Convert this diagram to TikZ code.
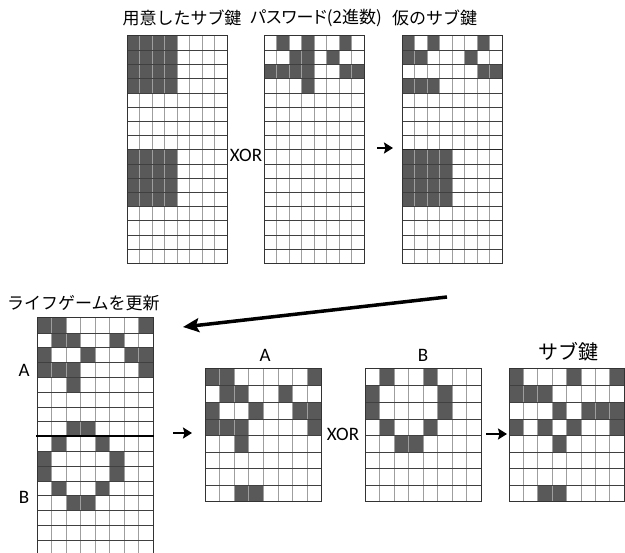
\documentclass[tikz,border=0pt]{standalone}
\usepackage{fontspec}
\newfontfamily\jpfont{Noto Sans CJK JP}
\newfontfamily\jppfont[RawFeature=+palt]{Noto Sans CJK JP}
\newfontfamily\latfont{Carlito}
\usetikzlibrary{arrows.meta}
\tikzset{
  cellfill/.style={fill=black!65},
  vline/.style={draw=black!38, line width=0.9pt},
  hline/.style={draw=black!75, line width=0.5pt},
  gborder/.style={draw=black!80, line width=1pt},
  jplabel/.style={font=\jpfont\fontsize{17}{19}\selectfont, inner sep=0pt},
  jpplabel/.style={font=\jppfont\fontsize{17}{19}\selectfont, inner sep=0pt},
  biglabel/.style={font=\jpfont\fontsize{20}{22}\selectfont, inner sep=0pt},
  latlabel/.style={font=\latfont\fontsize{19}{21}\selectfont, inner sep=0pt},
  smallarrow/.style={line width=2.6pt, -{Stealth[length=9pt,width=11pt,inset=1.5pt]}},
  bigarrow/.style={line width=3.5pt, -{Stealth[length=16pt,width=14pt,inset=3pt]}},
  splitline/.style={draw=black, line width=1.8pt},
}
% x0, y0, column width, row height, columns, rows, dark cells col/row
\newcommand{\cellgrid}[7]{%
  \pgfmathtruncatemacro{\gncm}{#5-1}%
  \pgfmathtruncatemacro{\gnrm}{#6-1}%
  \foreach \cc/\rr in {#7}{\fill[cellfill] ({#1+\cc*#3},{#2+\rr*#4}) rectangle ({#1+(\cc+1)*#3},{#2+(\rr+1)*#4});}%
  \foreach \k in {1,...,\gncm}{\draw[vline] ({#1+\k*#3},{#2}) -- ({#1+\k*#3},{#2+#6*#4});}%
  \foreach \k in {1,...,\gnrm}{\draw[hline] ({#1},{#2+\k*#4}) -- ({#1+#5*#3},{#2+\k*#4});}%
  \draw[gborder] (#1,#2) rectangle ({#1+#5*#3},{#2+#6*#4});%
}
\begin{document}
\begin{tikzpicture}[x=1pt,y=-1pt]
\useasboundingbox[fill=white] (0,0) rectangle (625,553);

% top row grids
\cellgrid{127}{36}{12.5}{14.2}{8}{16}{0/0,1/0,2/0,3/0,0/1,1/1,2/1,3/1,0/2,1/2,2/2,3/2,0/3,1/3,2/3,3/3,0/8,1/8,2/8,3/8,0/9,1/9,2/9,3/9,0/10,1/10,2/10,3/10,0/11,1/11,2/11,3/11}
\cellgrid{264}{36}{12.5}{14.2}{8}{16}{1/0,3/0,6/0,2/1,3/1,5/1,0/2,1/2,2/2,3/2,6/2,7/2,3/3}
\cellgrid{402}{36}{12.5}{14.2}{8}{16}{0/0,2/0,6/0,0/1,1/1,5/1,6/2,7/2,0/3,1/3,2/3,0/8,1/8,2/8,3/8,0/9,1/9,2/9,3/9,0/10,1/10,2/10,3/10,0/11,1/11,2/11,3/11}
\draw[draw=black!85, line width=0.9pt] (402,149.6) -- (502,149.6);

\node[jplabel] (t1) at (182,18) {用意したサブ鍵};
\node[jpplabel] (t2) at (316,18) {パスワード(2進数)};
\node[jplabel, anchor=west] (t3) at (392,18) {仮のサブ鍵};
\node[latlabel] (x1) at (246,155) {XOR};
\coordinate (a1s) at (377,148);
\coordinate (a1e) at (393,148);
\draw[smallarrow] (a1s) -- (a1e);

% big arrow
\coordinate (bas) at (447,297);
\coordinate (bae) at (183,327);
\draw[bigarrow] (bas) -- (bae);

% life game grid (open bottom)
\node[jplabel, anchor=west] (t4) at (7,303) {ライフゲームを更新};
\foreach \cc/\rr in {0/0,1/0,7/0,1/1,2/1,5/1,0/2,3/2,6/2,7/2,0/3,1/3,2/3,7/3,2/4,2/7,3/7,1/8,4/8,0/9,5/9,0/10,5/10,1/11,4/11,2/12,3/12}
  {\fill[cellfill] ({37+\cc*14.5},{318+\rr*14.8}) rectangle ({37+(\cc+1)*14.5},{318+(\rr+1)*14.8});}
\foreach \k in {1,...,7}{\draw[vline] ({37+\k*14.5},318) -- ({37+\k*14.5},553);}
\foreach \k in {1,...,15}{\draw[hline] (37,{318+\k*14.8}) -- (153,{318+\k*14.8});}
\draw[gborder] (37,553) -- (37,318) -- (153,318) -- (153,553);
\draw[splitline] (36,436.4) -- (154,436.4);
\node[latlabel] (la) at (24,370) {A};
\node[latlabel] (lb) at (24,497) {B};

% bottom row grids
\node[latlabel] (ta) at (265,355) {A};
\node[latlabel] (tb) at (423,355) {B};
\node[biglabel] (ts) at (568,352) {サブ鍵};
\cellgrid{205}{369}{14.6}{16.6}{8}{8}{0/0,1/0,7/0,1/1,2/1,5/1,0/2,3/2,6/2,7/2,0/3,1/3,2/3,7/3,2/4,2/7,3/7}
\cellgrid{365}{369}{14.5}{16.6}{8}{8}{1/0,4/0,0/1,5/1,0/2,5/2,1/3,4/3,2/4,3/4}
\cellgrid{509}{369}{14.4}{16.6}{8}{8}{0/0,4/0,7/0,0/1,1/1,2/1,3/2,5/2,6/2,7/2,0/3,2/3,4/3,7/3,3/4,2/7,3/7}
\node[latlabel] (x2) at (343,434) {XOR};
\coordinate (a2s) at (173,433);
\coordinate (a2e) at (192,433);
\draw[smallarrow] (a2s) -- (a2e);
\coordinate (a3s) at (486,434);
\coordinate (a3e) at (507,434);
\draw[smallarrow] (a3s) -- (a3e);
\end{tikzpicture}
\end{document}
